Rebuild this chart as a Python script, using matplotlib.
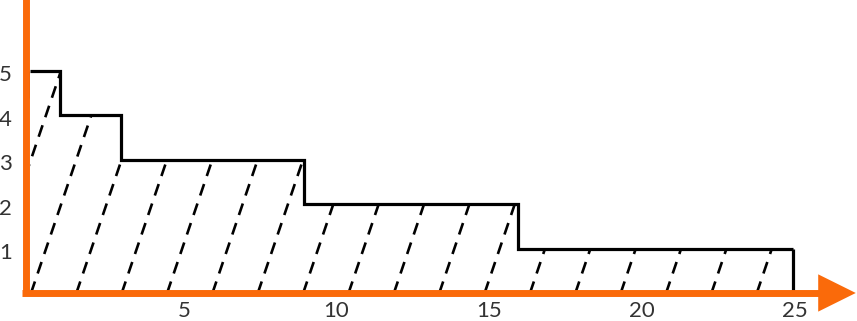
import numpy as np
import matplotlib.pyplot as plt
from matplotlib.patches import Polygon

# step data: value on each interval [edge_i, edge_i+1)
edges = [0, 1, 3, 9, 16, 25]
values = [5, 4, 3, 2, 1]
x_ticks = [5, 10, 15, 20, 25]
y_ticks = [1, 2, 3, 4, 5]

ORANGE = '#fa6a0a'
TEXT = '#333333'

fig = plt.figure(figsize=(8.57, 3.21), dpi=100)
ax = fig.add_axes([0, 0, 1, 1])
ax.set_xlim(-0.966, 27.09)
ax.set_ylim(-0.631, 6.599)
ax.axis('off')

# area under the steps (used as clip path for the hatch)
area = ax.stairs(values, edges, fill=True, facecolor='none', edgecolor='none')

# dashed diagonal hatch lines
slope = 0.493     # dx per unit y
spacing = 1.485
for k in range(-4, 20):
    x0 = 0.05 + k * spacing
    ln, = ax.plot([x0, x0 + slope * 6], [0, 6], color='black', lw=1.9,
                  dashes=(4.6, 3.2), solid_capstyle='butt', zorder=1)
    ln.set_clip_path(area)

# step outline (no left edge, short tick at the start, right edge down to 0)
ax.stairs(values, edges, baseline=None, color='black', lw=2.3, zorder=2)
ax.vlines(edges[-1], 0, values[-1], color='black', lw=2.3, zorder=2)
ax.vlines(edges[0] - 0.05, values[0] - 0.6, values[0], color='black', lw=2.0, zorder=2)

# orange axes with arrow head
ax.plot([-0.13, -0.13], [0, 7], color=ORANGE, lw=5, solid_capstyle='butt', zorder=3)
ax.plot([-0.24, 25.9], [0, 0], color=ORANGE, lw=5, solid_capstyle='butt', zorder=3)
ax.add_patch(Polygon([[25.82, 0.42], [25.82, -0.42], [27.05, 0]], closed=True,
                     facecolor=ORANGE, edgecolor='none', zorder=3))

# tick labels
for t in x_ticks:
    ax.text(t + 0.05, -0.40, str(t), ha='center', va='center', fontsize=16,
            family='Lato', color=TEXT)
for t in y_ticks:
    ax.text(-0.78, t - 0.1, str(t), ha='center', va='center', fontsize=16,
            family='Lato', color=TEXT)

fig.savefig('out.png', dpi=100)
